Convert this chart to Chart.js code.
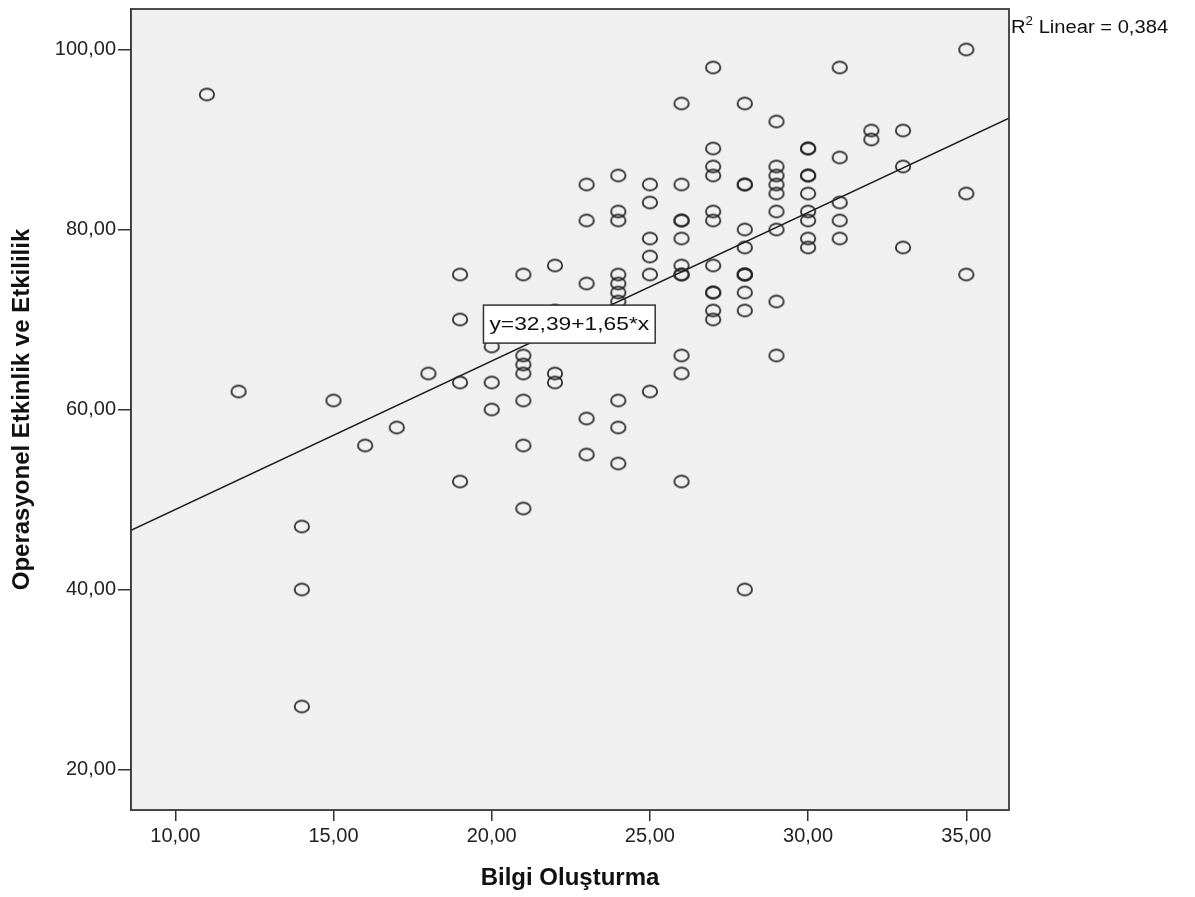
<!DOCTYPE html>
<html>
<head>
<meta charset="utf-8">
<script src="https://cdn.jsdelivr.net/npm/chart.js@4.4.1/dist/chart.umd.min.js"></script>
<style>
  html, body { margin: 0; padding: 0; background: #fff; }
  #wrap { width: 1195px; height: 897px; position: relative; }
</style>
</head>
<body>
<div id="wrap"><canvas id="chart"></canvas></div>
<script>
// Bilgi Oluşturma (x) vs Operasyonel Etkinlik ve Etkililik (y)
const xValues = [
  11,
  12,
  14, 14, 14,
  15,
  16,
  17,
  18,
  19, 19, 19, 19,
  20, 20, 20,
  21, 21, 21, 21, 21, 21, 21,
  22, 22, 22, 22,
  23, 23, 23, 23, 23,
  24, 24, 24, 24, 24, 24, 24, 24, 24, 24,
  25, 25, 25, 25, 25, 25,
  26, 26, 26, 26, 26, 26, 26, 26, 26, 26, 26,
  27, 27, 27, 27, 27, 27, 27, 27, 27, 27, 27,
  28, 28, 28, 28, 28, 28, 28, 28, 28, 28, 28,
  29, 29, 29, 29, 29, 29, 29, 29, 29,
  30, 30, 30, 30, 30, 30, 30, 30, 30,
  31, 31, 31, 31, 31,
  32, 32,
  33, 33, 33,
  35, 35, 35
]
const yValues = [
  95,
  62,
  47, 40, 27,
  61,
  56,
  58,
  64,
  75, 70, 63, 52,
  67, 63, 60,
  75, 66, 65, 64, 61, 56, 49,
  76, 71, 64, 63,
  85, 81, 74, 59, 55,
  86, 82, 81, 75, 74, 73, 72, 61, 58, 54,
  85, 83, 79, 77, 75, 62,
  94, 85, 81, 81, 79, 76, 75, 75, 66, 64, 52,
  98, 89, 87, 86, 82, 81, 76, 73, 73, 71, 70,
  94, 85, 85, 80, 78, 75, 75, 75, 73, 71, 40,
  92, 87, 86, 85, 84, 82, 80, 72, 66,
  89, 89, 86, 86, 84, 82, 81, 79, 78,
  98, 88, 83, 81, 79,
  91, 90,
  91, 87, 78,
  100, 84, 75
]

// fit line y = a + b*x
const intercept = 32.39
const slope = 1.65
const rSquared = "0,384"
const equationText = "y=32,39+1,65*x"

const xTitle = "Bilgi Oluşturma"
const yTitle = "Operasyonel Etkinlik ve Etkililik"

const xMin = 8.6, xMax = 36.35
const yMin = 15.5, yMax = 104.5

const fmt = (v) => v.toFixed(2).replace(".", ",")

// open marker, a bit wider than tall like the picture
const marker = document.createElement("canvas")
marker.width = 20
marker.height = 16
{
  const m = marker.getContext("2d")
  m.strokeStyle = "#222"
  m.lineWidth = 1.7
  m.beginPath()
  m.ellipse(10, 8, 7.2, 5.9, 0, 0, Math.PI * 2)
  m.stroke()
}

const points = xValues.map((x, i) => ({ x: x, y: yValues[i] }))
const fitLine = [
  { x: xMin, y: intercept + slope * xMin },
  { x: xMax, y: intercept + slope * xMax },
]

const FONT = "Arial, 'Liberation Sans', sans-serif"

// plot background, frame, equation box and R² label
const decor = {
  id: "decor",
  beforeDatasetsDraw(chart) {
    const { ctx, chartArea: a } = chart
    ctx.save()
    ctx.fillStyle = "#f0f0f0"
    ctx.fillRect(a.left, a.top, a.right - a.left, a.bottom - a.top)
    ctx.restore()
  },
  afterDatasetsDraw(chart) {
    const { ctx, chartArea: a, scales } = chart
    ctx.save()
    ctx.strokeStyle = "#3a3a3a"
    ctx.lineWidth = 1.8
    ctx.strokeRect(a.left, a.top, a.right - a.left, a.bottom - a.top)

    // equation label
    ctx.font = "19px " + FONT
    const stretch = 1.2
    const tw = ctx.measureText(equationText).width * stretch
    const bx = scales.x.getPixelForValue(19.74)
    const by = scales.y.getPixelForValue(71.6)
    const bw = tw + 12, bh = 38
    ctx.fillStyle = "#fff"
    ctx.fillRect(bx, by, bw, bh)
    ctx.strokeStyle = "#333"
    ctx.lineWidth = 1.5
    ctx.strokeRect(bx, by, bw, bh)
    ctx.fillStyle = "#111"
    ctx.textBaseline = "middle"
    ctx.translate(bx + 6, by + bh / 2 + 1)
    ctx.scale(stretch, 1)
    ctx.fillText(equationText, 0, 0)
    ctx.restore()

    // R² Linear label, right of the plot
    ctx.save()
    ctx.fillStyle = "#111"
    ctx.textBaseline = "alphabetic"
    ctx.translate(a.right + 2, 33)
    ctx.scale(1.12, 1)
    ctx.font = "18px " + FONT
    ctx.fillText("R", 0, 0)
    let w = ctx.measureText("R").width
    ctx.font = "12px " + FONT
    ctx.fillText("2", w, -8)
    w += ctx.measureText("2").width
    ctx.font = "18px " + FONT
    ctx.fillText(" Linear = " + rSquared, w, 0)
    ctx.restore()
  },
}

const tickFont = { family: FONT, size: 20 }
const titleFont = { family: FONT, size: 24, weight: "bold" }

new Chart(document.getElementById("chart").getContext("2d"), {
  type: "scatter",
  data: {
    datasets: [
      {
        data: points,
        pointStyle: marker,
        pointRadius: 7,
        pointHoverRadius: 7,
      },
      {
        data: fitLine,
        showLine: true,
        borderColor: "#1a1a1a",
        borderWidth: 1.4,
        pointRadius: 0,
        pointHoverRadius: 0,
      },
    ],
  },
  options: {
    responsive: true,
    maintainAspectRatio: false,
    animation: false,
    layout: { padding: { top: 9, right: 186, left: 0, bottom: 0 } },
    plugins: {
      legend: { display: false },
      tooltip: { enabled: false },
    },
    scales: {
      x: {
        type: "linear",
        min: xMin,
        max: xMax,
        afterFit: (scale) => {
          scale.height = 87
          scale.paddingLeft = 0
          scale.paddingRight = 0
        },
        ticks: {
          stepSize: 5,
          includeBounds: false,
          color: "#222",
          font: tickFont,
          padding: 3,
          maxRotation: 0,
          callback: (v) => fmt(v),
        },
        grid: { drawOnChartArea: false, drawTicks: true, tickLength: 11, color: "#333", lineWidth: 1.5 },
        border: { display: true, color: "#333", width: 1.5 },
        title: { display: true, text: xTitle, color: "#111", font: titleFont, padding: { top: 0, bottom: 4 } },
      },
      y: {
        type: "linear",
        min: yMin,
        max: yMax,
        afterFit: (scale) => {
          scale.width = 131
          scale.paddingTop = 0
          scale.paddingBottom = 0
        },
        ticks: {
          stepSize: 20,
          includeBounds: false,
          color: "#222",
          font: tickFont,
          padding: 2,
          callback: (v) => fmt(v),
        },
        grid: { drawOnChartArea: false, drawTicks: true, tickLength: 13, color: "#333", lineWidth: 1.5 },
        border: { display: true, color: "#333", width: 1.5 },
        title: { display: true, text: yTitle, color: "#111", font: titleFont, padding: { top: 8, bottom: 0 } },
      },
    },
  },
  plugins: [decor],
})
</script>
</body>
</html>
